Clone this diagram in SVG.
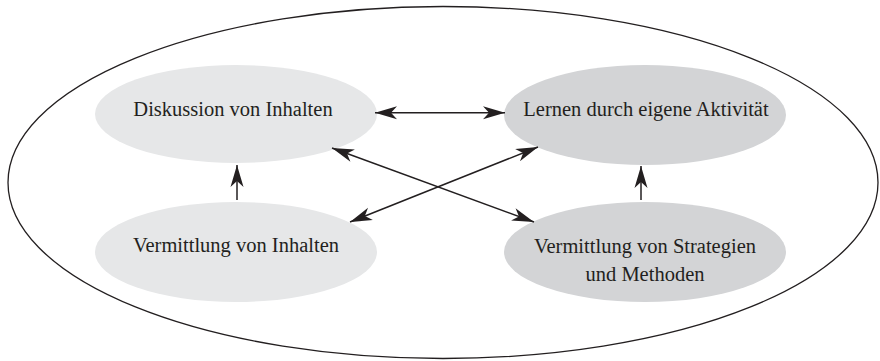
<svg xmlns="http://www.w3.org/2000/svg" width="880" height="361" viewBox="0 0 880 361">
<defs>
<style>
.outer{fill:none;stroke:#231f20;stroke-width:1.3}
.light{fill:#e6e7e8}
.dark{fill:#d3d4d6}
.lbl{font-family:"Liberation Serif","Times New Roman",serif;font-size:20.5px;fill:#231f20;text-anchor:middle}
.conn{stroke:#231f20;stroke-width:1.5;fill:none}
</style>
<marker id="ah" viewBox="-23 -7 24 14" refX="0" refY="0" markerUnits="userSpaceOnUse" markerWidth="24" markerHeight="14" orient="auto-start-reverse">
<path d="M0,0 L-22,-6.5 L-16,0 L-22,6.5 Z" fill="#231f20"/>
</marker>
</defs>
<rect width="880" height="361" fill="#ffffff"/>
<ellipse id="outer" class="outer" cx="443" cy="182.5" rx="435" ry="176"/>
<g id="n1">
<ellipse class="light" cx="236" cy="114" rx="141" ry="49"/>
<text class="lbl" x="233" y="116">Diskussion von Inhalten</text>
</g>
<g id="n2">
<ellipse class="dark" cx="645" cy="115" rx="141" ry="50"/>
<text class="lbl" x="646" y="116">Lernen durch eigene Aktivität</text>
</g>
<g id="n3">
<ellipse class="light" cx="236" cy="252" rx="141" ry="50"/>
<text class="lbl" x="236" y="252">Vermittlung von Inhalten</text>
</g>
<g id="n4">
<ellipse class="dark" cx="645" cy="252" rx="141" ry="50"/>
<text class="lbl" x="645" y="253">Vermittlung von Strategien</text>
<text class="lbl" x="645" y="281">und Methoden</text>
</g>
<g id="connectors">
<line class="conn" x1="375" y1="112.7" x2="505" y2="112.7" marker-start="url(#ah)" marker-end="url(#ah)"/>
<line class="conn" x1="237" y1="200" x2="237" y2="165" marker-end="url(#ah)"/>
<line class="conn" x1="641" y1="200" x2="641" y2="166" marker-end="url(#ah)"/>
<line class="conn" x1="332" y1="148" x2="534" y2="222" marker-start="url(#ah)" marker-end="url(#ah)"/>
<line class="conn" x1="350" y1="222" x2="538" y2="147" marker-start="url(#ah)" marker-end="url(#ah)"/>
</g>
</svg>
